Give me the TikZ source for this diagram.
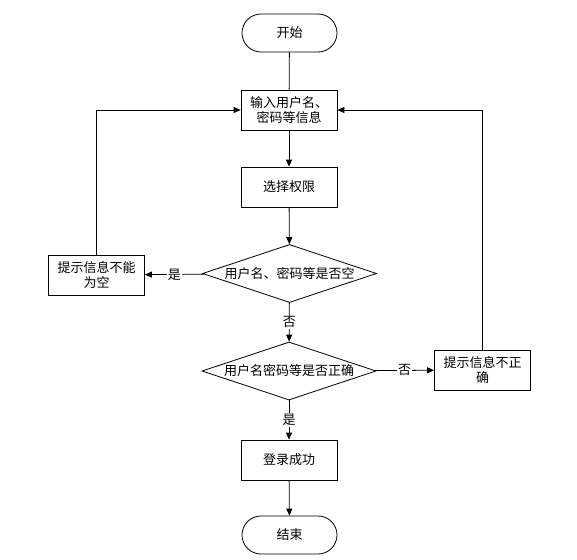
\documentclass[tikz,border=0pt]{standalone}
\usepackage{fontspec}
\setmainfont{Noto Sans CJK SC}
\usetikzlibrary{shapes.geometric,arrows.meta}
\begin{document}
\begin{tikzpicture}[x=1pt,y=-1pt,
  font=\fontsize{13}{15.5}\selectfont,
  every node/.style={inner sep=0pt, align=center},
  proc/.style={draw, line width=0.8pt, minimum width=96pt, minimum height=40pt},
  term/.style={draw, line width=0.8pt, rounded corners=19pt, minimum width=95pt, minimum height=38pt},
  dec/.style={draw, line width=0.8pt, diamond, aspect=3, minimum width=174pt, minimum height=58pt, inner sep=0pt},
  lab/.style={fill=white, inner sep=1pt},
  arr/.style={line width=0.8pt, -{Triangle[length=7pt,width=6pt]}},
  ln/.style={line width=0.8pt}]
\useasboundingbox (0,0) rectangle (577,559);
\node[term] (start) at (289.5,33) {开始};
\node[proc] (input) at (289,110) {输入用户名、\\密码等信息};
\node[proc] (sel) at (289,187) {选择权限};
\node[dec] (d1) at (289.5,273.5) {用户名、密码等是否空};
\node[proc] (empty) at (96.5,275) {提示信息不能\\为空};
\node[dec] (d2) at (289,371) {用户名密码等是否正确};
\node[proc] (wrong) at (482.5,370) {提示信息不正\\确};
\node[proc] (ok) at (289,460) {登录成功};
\node[term] (end) at (289.5,535) {结束};

\coordinate (lc) at (96.5,110);
\coordinate (rc) at (482.5,110);

\draw[ln] (start) -- (input);
\draw[arr] (input) -- (sel);
\draw[arr] (sel) -- (d1);
\draw[arr] (d1) -- node[lab, pos=0.5] {是} (empty);
\draw[arr] (d1) -- node[lab, pos=0.5] {否} (d2);
\draw[arr] (d2) -- node[lab, pos=0.5] {否} (wrong);
\draw[arr] (d2) -- node[lab, pos=0.5] {是} (ok);
\draw[arr] (ok) -- (end);
\draw[arr] (empty.north) -- (lc) -- (input.west);
\draw[arr] (wrong.north) -- (rc) -- (input.east);
\end{tikzpicture}
\end{document}
